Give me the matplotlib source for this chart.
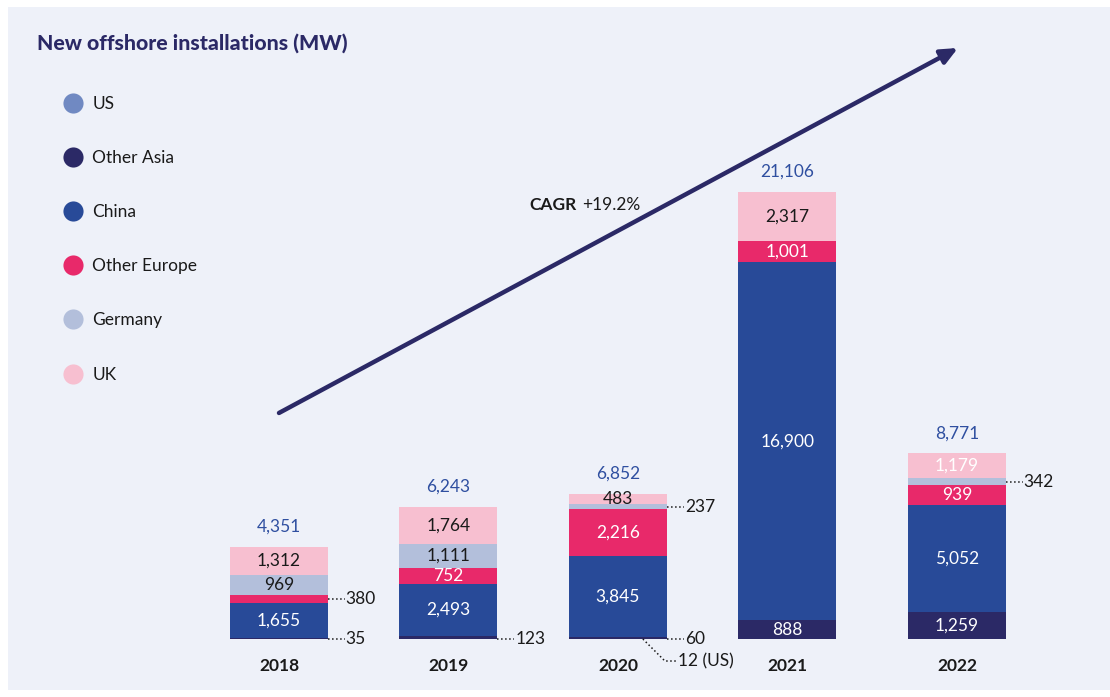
import matplotlib.pyplot as plt
from matplotlib.lines import Line2D
from matplotlib.patches import Rectangle

plt.rcParams['font.family'] = ['Lato', 'DejaVu Sans']

# Data (MW), stacked bottom -> top
years = ['2018', '2019', '2020', '2021', '2022']
us = [0, 0, 12, 0, 0]
other_asia = [35, 123, 60, 888, 1259]
china = [1655, 2493, 3845, 16900, 5052]
other_europe = [380, 752, 2216, 1001, 939]
germany = [969, 1111, 237, 0, 342]
uk = [1312, 1764, 483, 2317, 1179]
totals = [4351, 6243, 6852, 21106, 8771]

series = [
    ('US', us, '#7089c2', 'white'),
    ('Other Asia', other_asia, '#2b2966', 'white'),
    ('China', china, '#284a98', 'white'),
    ('Other Europe', other_europe, '#e8296a', 'white'),
    ('Germany', germany, '#b3bfdb', '#1a1a1a'),
    ('UK', uk, '#f7bfd0', '#1a1a1a'),
]

bg = '#eef1f9'
navy = '#2b2966'

fig = plt.figure(figsize=(11.1, 6.97), dpi=100)
fig.patch.set_facecolor('white')
fig.patches.append(Rectangle((8 / 1110, 7 / 697), 1102 / 1110, 683 / 697,
                             transform=fig.transFigure, facecolor=bg,
                             edgecolor='none', zorder=-5))

ax = fig.add_axes([0, 0, 1, 1])
ax.set_facecolor('none')
ax.set_xlim(-1.646, 4.903)
ax.set_ylim(-2739, 30172)
ax.axis('off')

width = 0.578
x = list(range(len(years)))
bottom = [0] * len(years)
for name, vals, color, tcolor in series:
    ax.bar(x, vals, width, bottom=bottom, color=color, edgecolor='none', zorder=2)
    for i, v in enumerate(vals):
        if v >= 400:
            c = tcolor
            if name == 'UK' and years[i] == '2022':
                c = 'white'
            ax.text(i, bottom[i] + v / 2, f'{v:,}', ha='center', va='center',
                    fontsize=12.5, color=c, zorder=3)
    bottom = [b + v for b, v in zip(bottom, vals)]

# totals and year labels
for i, t in enumerate(totals):
    ax.text(i, bottom[i] + 940, f'{t:,}', ha='center', va='center',
            fontsize=12.5, color='#2f4fa0')
    ax.text(i, -1270, years[i], ha='center', va='center', fontsize=12.5,
            fontweight='bold', color='#1a1a1a')

# small segments labelled outside with dotted leaders
def side_label(i, y, text):
    x0 = i + width / 2
    ax.plot([x0, x0 + 0.1], [y, y], ls=':', color='#1a1a1a', lw=1.1, zorder=3)
    ax.text(x0 + 0.105, y, text, ha='left', va='center', fontsize=12.5,
            color='#1a1a1a')

side_label(0, other_asia[0] + china[0] + other_europe[0] / 2, f'{other_europe[0]:,}')
side_label(0, 0, f'{other_asia[0]:,}')
side_label(1, 0, f'{other_asia[1]:,}')
side_label(2, 0, f'{other_asia[2]:,}')
side_label(2, us[2] + other_asia[2] + china[2] + other_europe[2] + germany[2] / 2,
           f'{germany[2]:,}')
side_label(4, other_asia[4] + china[4] + other_europe[4] + germany[4] / 2,
           f'{germany[4]:,}')
# US 2020 with diagonal leader
ax.plot([2.147, 2.277, 2.35], [0, -1040, -1040], ls=':', color='#1a1a1a',
        lw=1.1, zorder=3)
ax.text(2.355, -1040, f'{us[2]} (US)', ha='left', va='center', fontsize=12.5,
        color='#1a1a1a')

# CAGR arrow
ax.annotate('', xy=(4.006, 27907), xytext=(0, 10672),
            arrowprops=dict(arrowstyle='-|>,head_length=1.0,head_width=0.45',
                            color=navy, lw=3.2, shrinkA=0, shrinkB=0))
cagr = ax.text(1.475, 20500, 'CAGR', fontsize=12.5, fontweight='bold',
               color='#1a1a1a', ha='left', va='center')
ax.annotate('+19.2%', xy=(1, 0.5), xycoords=cagr, xytext=(4, 0),
            textcoords='offset points', fontsize=12.5, color='#1a1a1a',
            ha='left', va='center')

# title
fig.text(37 / 1110, 1 - 43 / 697, 'New offshore installations (MW)',
         fontsize=15.3, fontweight='black', color=navy, ha='left', va='center')

# legend
handles = [Line2D([], [], ls='none', marker='o', markersize=14.5,
                  markerfacecolor=c, markeredgecolor='none')
           for _, _, c, _ in series]
leg = fig.legend(handles, [s[0] for s in series], loc='upper left',
                 bbox_to_anchor=(47 / 1110, 1 - 80 / 697), frameon=False,
                 fontsize=12.5, labelspacing=2.2, handletextpad=0.5,
                 handlelength=1.2)
for t in leg.get_texts():
    t.set_color('#1a1a1a')

fig.savefig('out.png', dpi=100, facecolor='white')
